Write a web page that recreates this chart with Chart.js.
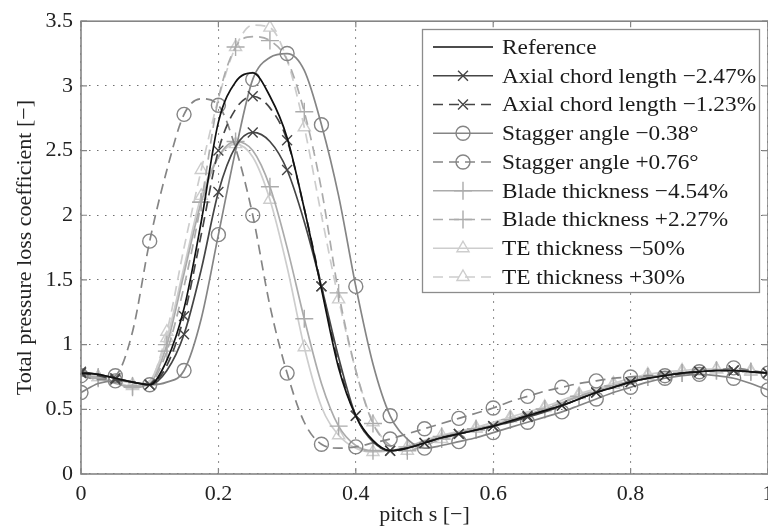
<!DOCTYPE html>
<html>
<head>
<meta charset="utf-8">
<script src="https://cdn.jsdelivr.net/npm/chart.js@4.4.0/dist/chart.umd.min.js"></script>
<style>
html, body { margin: 0; padding: 0; background: #fff; overflow: hidden; }
#wrap { width: 800px; height: 531px; position: relative; }
</style>
</head>
<body>
<div id="wrap"><canvas id="chart"></canvas></div>
<script>
// pitch positions (x)
var pitch = [0, 0.025, 0.05, 0.075, 0.1, 0.125, 0.15, 0.175, 0.2, 0.225, 0.25, 0.275, 0.3, 0.325, 0.35, 0.375, 0.4, 0.425, 0.45, 0.475,
  0.5, 0.525, 0.55, 0.575, 0.6, 0.625, 0.65, 0.675, 0.7, 0.725, 0.75, 0.775, 0.8, 0.825, 0.85, 0.875, 0.9, 0.925, 0.95, 0.975, 1]

var xTickLabels = ['0', '0.2', '0.4', '0.6', '0.8', '1']
var yTickLabels = ['0', '0.5', '1', '1.5', '2', '2.5', '3', '3.5']

var reference = [0.78, 0.77, 0.74, 0.71, 0.69, 0.88, 1.28, 1.95, 2.72, 3.03, 3.1, 2.92, 2.6, 2.05, 1.43, 0.82, 0.45, 0.26, 0.18, 0.2,
  0.24, 0.28, 0.31, 0.34, 0.37, 0.41, 0.45, 0.49, 0.53, 0.58, 0.63, 0.67, 0.71, 0.74, 0.76, 0.78, 0.79, 0.8, 0.8, 0.79, 0.78]
var axialMinus247 = [0.79, 0.77, 0.74, 0.71, 0.69, 0.8, 1.08, 1.58, 2.18, 2.53, 2.64, 2.57, 2.35, 1.95, 1.45, 0.9, 0.45, 0.25, 0.18, 0.2,
  0.24, 0.28, 0.31, 0.34, 0.37, 0.4, 0.44, 0.48, 0.53, 0.58, 0.63, 0.67, 0.71, 0.74, 0.76, 0.78, 0.79, 0.8, 0.8, 0.79, 0.78]
var axialMinus123 = [0.78, 0.76, 0.73, 0.71, 0.69, 0.84, 1.22, 1.85, 2.5, 2.82, 2.92, 2.83, 2.58, 2.05, 1.45, 0.85, 0.45, 0.25, 0.18, 0.2,
  0.24, 0.28, 0.31, 0.34, 0.37, 0.41, 0.45, 0.49, 0.53, 0.58, 0.63, 0.67, 0.71, 0.74, 0.76, 0.78, 0.79, 0.8, 0.8, 0.79, 0.78]
var staggerMinus038 = [0.63, 0.7, 0.72, 0.71, 0.69, 0.71, 0.8, 1.2, 1.85, 2.5, 3.05, 3.22, 3.25, 3.12, 2.7, 2.15, 1.45, 0.85, 0.45, 0.27,
  0.2, 0.22, 0.25, 0.28, 0.32, 0.36, 0.4, 0.44, 0.48, 0.53, 0.58, 0.63, 0.67, 0.71, 0.74, 0.76, 0.77, 0.76, 0.74, 0.7, 0.65]
var staggerPlus076 = [0.76, 0.73, 0.76, 1.1, 1.8, 2.35, 2.78, 2.9, 2.85, 2.52, 2.0, 1.3, 0.78, 0.4, 0.23, 0.2, 0.21, 0.24, 0.27, 0.31,
  0.35, 0.39, 0.43, 0.47, 0.51, 0.56, 0.6, 0.64, 0.67, 0.7, 0.72, 0.74, 0.75, 0.76, 0.76, 0.77, 0.79, 0.8, 0.82, 0.8, 0.78]
var bladeMinus454 = [0.77, 0.74, 0.7, 0.67, 0.7, 1.0, 1.55, 2.1, 2.45, 2.57, 2.5, 2.22, 1.75, 1.2, 0.7, 0.37, 0.22, 0.18, 0.18, 0.21,
  0.25, 0.29, 0.32, 0.35, 0.38, 0.42, 0.46, 0.5, 0.55, 0.6, 0.64, 0.68, 0.72, 0.75, 0.77, 0.78, 0.79, 0.8, 0.8, 0.79, 0.78]
var bladePlus227 = [0.78, 0.75, 0.71, 0.68, 0.7, 0.95, 1.45, 2.1, 2.9, 3.3, 3.38, 3.35, 3.2, 2.8, 2.2, 1.4, 0.8, 0.39, 0.22, 0.18,
  0.22, 0.27, 0.31, 0.34, 0.38, 0.42, 0.46, 0.5, 0.55, 0.6, 0.64, 0.68, 0.72, 0.75, 0.77, 0.78, 0.79, 0.8, 0.8, 0.79, 0.78]
var teMinus50 = [0.78, 0.75, 0.71, 0.68, 0.72, 1.05, 1.6, 2.15, 2.45, 2.55, 2.45, 2.12, 1.6, 0.98, 0.52, 0.3, 0.2, 0.17, 0.18, 0.21,
  0.26, 0.3, 0.33, 0.36, 0.4, 0.44, 0.48, 0.52, 0.57, 0.62, 0.66, 0.7, 0.74, 0.77, 0.79, 0.8, 0.81, 0.81, 0.8, 0.79, 0.78]
var tePlus30 = [0.78, 0.75, 0.71, 0.69, 0.72, 1.1, 1.75, 2.35, 2.9, 3.3, 3.47, 3.45, 3.2, 2.68, 2.0, 1.35, 0.8, 0.4, 0.22, 0.18,
  0.22, 0.27, 0.31, 0.35, 0.39, 0.43, 0.47, 0.51, 0.56, 0.61, 0.65, 0.69, 0.73, 0.76, 0.78, 0.79, 0.8, 0.81, 0.81, 0.8, 0.78]

var FONT = '"Liberation Serif", "Times New Roman", serif'

// one line per case, markers on every other sample
function serie(label, values, color, dashed, marker, radius, phase) {
    return {
        label: label,
        data: values.map(function (v, i) { return { x: pitch[i], y: v } }),
        borderColor: color,
        borderWidth: 1.7,
        borderDash: dashed ? [10, 6] : [],
        cubicInterpolationMode: 'monotone',
        fill: false,
        pointStyle: marker || false,
        legendRadius: radius,
        pointRadius: function (c) { return marker && c.dataIndex % 2 === phase ? radius : 0 },
        pointBorderColor: color,
        pointBackgroundColor: 'rgba(0,0,0,0)',
        pointBorderWidth: 1.4
    }
}

// box legend inside the plot, top right
const boxLegend = {
    id: 'boxLegend',
    afterDraw(chart) {
        const ctx = chart.ctx
        const x0 = 422, y0 = 29, w = 337, h = 263
        ctx.save()
        ctx.fillStyle = '#fff'
        ctx.fillRect(x0, y0, w, h)
        ctx.strokeStyle = '#8c8c8c'
        ctx.lineWidth = 1.3
        ctx.strokeRect(x0 + 0.5, y0 + 0.5, w, h)
        chart.data.datasets.forEach(function (ds, i) {
            const y = 47 + i * 28.75
            ctx.strokeStyle = ds.borderColor
            ctx.lineWidth = ds.borderWidth
            ctx.setLineDash(ds.borderDash)
            ctx.beginPath()
            ctx.moveTo(433, y)
            ctx.lineTo(493, y)
            ctx.stroke()
            ctx.setLineDash([])
            if (ds.pointStyle) {
                ctx.fillStyle = 'rgba(0,0,0,0)'
                ctx.lineWidth = ds.pointBorderWidth
                Chart.helpers.drawPoint(ctx, { pointStyle: ds.pointStyle, radius: ds.legendRadius, borderWidth: ds.pointBorderWidth, rotation: 0 }, 463, y)
            }
            // text a bit wider, like the scanned figure
            ctx.save()
            ctx.translate(502, y + 1)
            ctx.scale(1.06, 1)
            ctx.fillStyle = '#1a1a1a'
            ctx.font = '22px ' + FONT
            ctx.textBaseline = 'middle'
            ctx.textAlign = 'left'
            ctx.fillText(ds.label, 0, 0)
            ctx.restore()
        })
        ctx.restore()
    }
}

// axes box with inner ticks (matlab style)
const frame = {
    id: 'frame',
    afterDatasetsDraw(chart) {
        const a = chart.chartArea, ctx = chart.ctx
        const xs = chart.scales.x, ys = chart.scales.y
        ctx.save()
        ctx.strokeStyle = '#858585'
        ctx.lineWidth = 1.6
        ctx.strokeRect(a.left, a.top, a.right - a.left, a.bottom - a.top)
        ctx.lineWidth = 1.2
        ctx.beginPath()
        xs.ticks.forEach(function (t) {
            const px = xs.getPixelForValue(t.value)
            ctx.moveTo(px, a.bottom); ctx.lineTo(px, a.bottom - 6)
            ctx.moveTo(px, a.top); ctx.lineTo(px, a.top + 6)
        })
        ys.ticks.forEach(function (t) {
            const py = ys.getPixelForValue(t.value)
            ctx.moveTo(a.left, py); ctx.lineTo(a.left + 6, py)
            ctx.moveTo(a.right, py); ctx.lineTo(a.right - 6, py)
        })
        ctx.stroke()
        ctx.restore()
    }
}

new Chart(document.getElementById('chart'), {
    type: 'line',
    data: {
        datasets: [
            serie('Reference', reference, '#111111', false, null, 0, 0),
            serie('Axial chord length \u22122.47%', axialMinus247, '#454545', false, 'crossRot', 7, 0),
            serie('Axial chord length \u22121.23%', axialMinus123, '#454545', true, 'crossRot', 7, 0),
            serie('Stagger angle \u22120.38\u00b0', staggerMinus038, '#858585', false, 'circle', 7, 0),
            serie('Stagger angle +0.76\u00b0', staggerPlus076, '#858585', true, 'circle', 7, 0),
            serie('Blade thickness \u22124.54%', bladeMinus454, '#ababab', false, 'cross', 9, 1),
            serie('Blade thickness +2.27%', bladePlus227, '#ababab', true, 'cross', 9, 1),
            serie('TE thickness \u221250%', teMinus50, '#cdcdcd', false, 'triangle', 7, 1),
            serie('TE thickness +30%', tePlus30, '#cdcdcd', true, 'triangle', 7, 1)
        ]
    },
    options: {
        responsive: true,
        maintainAspectRatio: false,
        animation: false,
        layout: { padding: { top: 20, right: 32, left: 0, bottom: 0 } },
        plugins: { legend: { display: false }, tooltip: { enabled: false } },
        scales: {
            x: {
                type: 'linear', min: 0, max: 1,
                afterFit: function (s) { s.height = 57 },
                ticks: {
                    stepSize: 0.2, padding: 7, color: '#222', maxRotation: 0,
                    font: { family: FONT, size: 22 },
                    callback: function (v, i) { return xTickLabels[i] }
                },
                grid: { color: '#6f6f6f', lineWidth: 1.1, drawTicks: false },
                border: { display: false, dash: [1.5, 6.5] },
                title: { display: true, text: 'pitch s [\u2212]', color: '#222', font: { family: FONT, size: 22 }, padding: { top: 0, bottom: 3 } }
            },
            y: {
                type: 'linear', min: 0, max: 3.5,
                afterFit: function (s) { s.width = 81 },
                ticks: {
                    stepSize: 0.5, padding: 8, color: '#222',
                    font: { family: FONT, size: 22 },
                    callback: function (v, i) { return yTickLabels[i] }
                },
                grid: { color: '#6f6f6f', lineWidth: 1.1, drawTicks: false },
                border: { display: false, dash: [1.5, 6.5] },
                title: { display: true, text: 'Total pressure loss coefficient [\u2212]', color: '#222', font: { family: FONT, size: 22 }, padding: { top: 12, bottom: 0 } }
            }
        }
    },
    plugins: [frame, boxLegend]
})
</script>
</body>
</html>
